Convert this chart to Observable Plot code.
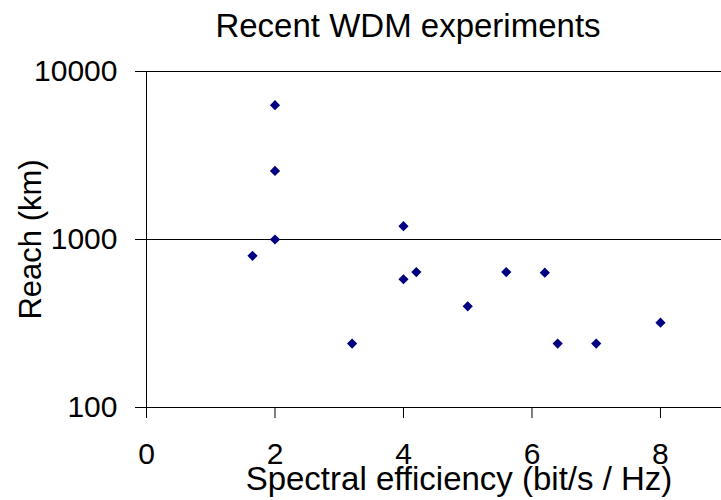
<!DOCTYPE html>
<html><head><meta charset="utf-8">
<script src="https://cdn.jsdelivr.net/npm/d3@7"></script>
<script src="https://cdn.jsdelivr.net/npm/@observablehq/plot@0.6"></script>
<style>
html,body{margin:0;padding:0;background:#fff;}
#title{width:721px;height:50px;box-sizing:border-box;padding-top:10px;padding-left:95px;text-align:center;font-family:"Liberation Sans",Arial,sans-serif;font-size:33px;line-height:32px;color:#000;white-space:nowrap;}
#chart svg{display:block;}
</style></head><body>
<div id="title"></div>
<div id="chart"></div>
<script>
const title = "Recent WDM experiments";
const xLabel = "Spectral efficiency (bit/s / Hz)";
const yLabel = "Reach (km)";
const efficiency = [1.65, 2, 2, 2, 3.2, 4, 4, 4.2, 5, 5.6, 6.2, 6.4, 7, 8];
const reach = [800, 6300, 2560, 1000, 240, 1200, 580, 640, 400, 640, 635, 240, 240, 320];
const xTicks = [0, 2, 4, 6, 8];
const yTicks = [100, 1000, 10000];
const gridValues = [1000, 10000];

document.getElementById("title").textContent = title;
const data = efficiency.map((x, i) => ({x, y: reach[i]}));

const chart = Plot.plot({
  width: 721, height: 450,
  marginLeft: 146, marginRight: 0, marginTop: 21, marginBottom: 93,
  style: {fontFamily: '"Liberation Sans", Arial, sans-serif', fontSize: "30px", color: "#000", background: "#fff", overflow: "visible"},
  x: {domain: [0, 8.95], label: null},
  y: {type: "log", domain: [100, 10000], label: null},
  marks: [
    Plot.ruleY(gridValues, {stroke: "#000"}),
    Plot.ruleY([yTicks[0]], {stroke: "#000"}),
    Plot.ruleX([xTicks[0]], {stroke: "#000"}),
    Plot.axisY({ticks: yTicks, tickFormat: d => String(d), tickSize: 11, tickPadding: 18, fontSize: 30, label: null}),
    Plot.axisX({ticks: xTicks, tickFormat: d => String(d), tickSize: 11, tickPadding: 24, fontSize: 30, label: null}),
    Plot.dot(data, {x: "x", y: "y", symbol: "diamond2", r: 4.6, fill: "#000080", stroke: "none"}),
    Plot.text([xLabel], {frameAnchor: "bottom", textAnchor: "middle", dx: 25, dy: 82.5, fontSize: 33, text: d => d}),
    Plot.text([yLabel], {frameAnchor: "left", textAnchor: "middle", rotate: -90, dx: -115.5, fontSize: 31, text: d => d})
  ]
});
document.getElementById("chart").appendChild(chart);
</script>
</body></html>
